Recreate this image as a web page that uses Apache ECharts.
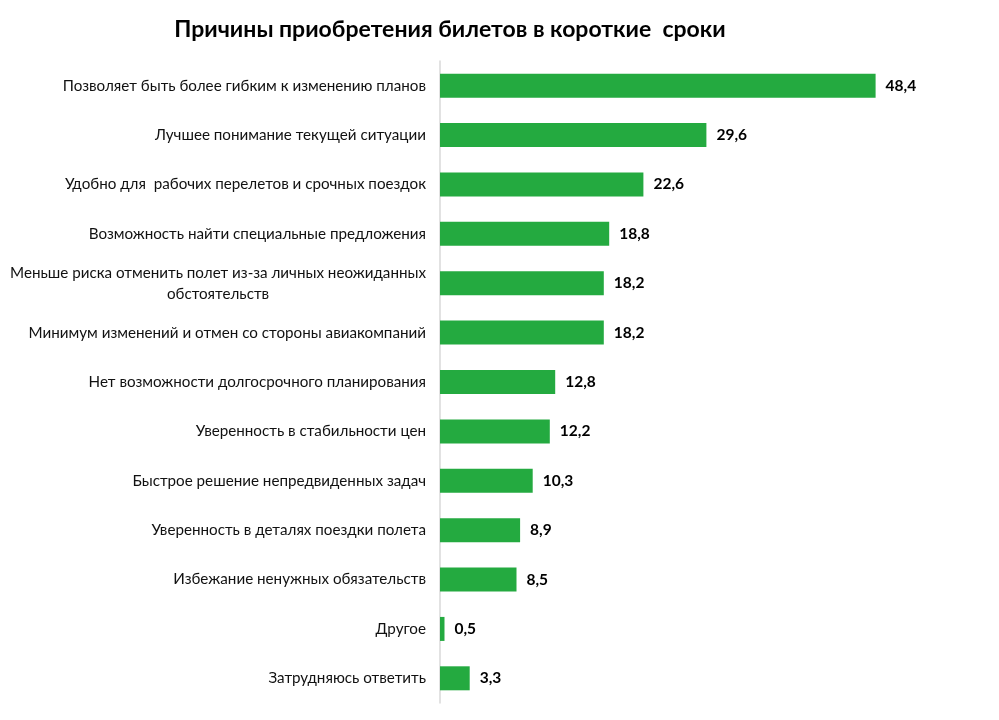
<!DOCTYPE html>
<html><head><meta charset="utf-8">
<script src="https://cdn.jsdelivr.net/npm/echarts@6/dist/echarts.min.js"></script>
<style>html,body{margin:0;padding:0;background:#fff}#c{width:999px;height:720px}</style>
</head><body><div id="c"></div>
<script>
const titleText = 'Причины приобретения билетов в короткие  сроки';
const categories = [
  'Позволяет быть более гибким к изменению планов',
  'Лучшее понимание текущей ситуации',
  'Удобно для  рабочих перелетов и срочных поездок',
  'Возможность найти специальные предложения',
  'Меньше риска отменить полет из-за личных неожиданных\nобстоятельств',
  'Минимум изменений и отмен со стороны авиакомпаний',
  'Нет возможности долгосрочного планирования',
  'Уверенность в стабильности цен',
  'Быстрое решение непредвиденных задач',
  'Уверенность в деталях поездки полета',
  'Избежание ненужных обязательств',
  'Другое',
  'Затрудняюсь ответить'
];
const values = [48.4, 29.6, 22.6, 18.8, 18.2, 18.2, 12.8, 12.2, 10.3, 8.9, 8.5, 0.5, 3.3];
const axisMax = 50;

const FONT = 'Lato';
const chart = echarts.init(document.getElementById('c'), null, {renderer: 'canvas'});
chart.setOption({
  animation: false,
  backgroundColor: '#fff',
  title: {
    text: titleText, left: 450, top: 13, textAlign: 'center',
    textStyle: {fontFamily: FONT, fontSize: 23, fontWeight: 'bold', color: '#000'}
  },
  grid: {left: 440, right: 109, top: 61, bottom: 17, containLabel: false},
  xAxis: {
    type: 'value', min: 0, max: axisMax, show: false
  },
  yAxis: {
    type: 'category', inverse: true, data: categories,
    axisLine: {show: true, lineStyle: {color: '#d9d9d9', width: 1.5}},
    axisTick: {show: false},
    axisLabel: {
      margin: 14, fontFamily: FONT, fontSize: 15.2, color: '#111', lineHeight: 21,
      formatter: function (v) {
        return v.split('\n').map(s => '{c|' + s + '}').join('\n');
      },
      rich: {c: {align: 'center', fontFamily: FONT, fontSize: 15.2, color: '#111', lineHeight: 21}}
    }
  },
  series: [{
    type: 'bar', data: values, barWidth: 24,
    itemStyle: {color: '#24aa40'},
    label: {
      show: true, position: 'right', distance: 10,
      fontFamily: FONT, fontSize: 15.5, fontWeight: 'bold', color: '#000',
      formatter: p => String(p.value).replace('.', ',')
    }
  }]
});
chart.setOption({title: {left: 445}});
</script></body></html>
